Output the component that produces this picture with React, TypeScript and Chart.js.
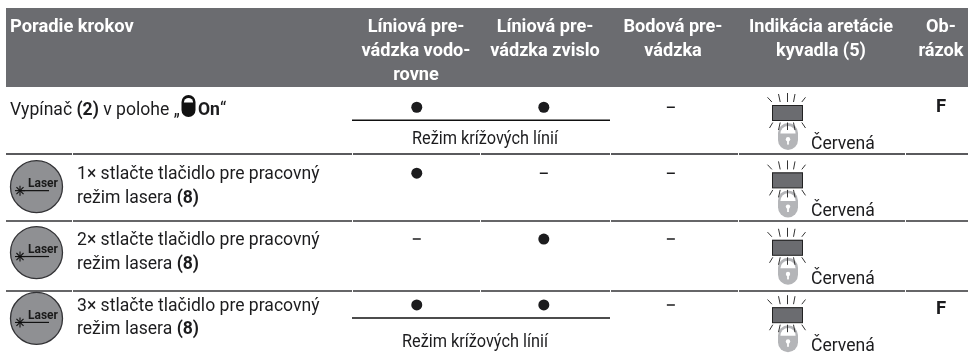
import React, { useEffect, useRef } from "react";
import { Chart, registerables } from "chart.js";

Chart.register(...registerables);

// ---- table content ----
const headerTitles = ["Poradie krokov"];
const columnTitles = [
  ["Líniová pre-", "vádzka vodo-", "rovne"],
  ["Líniová pre-", "vádzka zvislo"],
  ["Bodová pre-", "vádzka"],
  ["Indikácia aretácie", "kyvadla (5)"],
  ["Ob-", "rázok"],
];
const rowIndexes = [1, 2, 3, 4];
// 1 = active mode (dot), 0 = not active (dash)
const horizontalLine = [1, 1, 0, 1];
const verticalLine = [1, 0, 1, 1];
const pointMode = [0, 0, 0, 0];
const crossModeRows = [1, 4];
const crossModeLabel = "Režim krížových línií";
const pendulumLabel = "Červená";
const figureLabels = ["F", "", "", "F"];
const stepPresses = ["1×", "2×", "3×"];
const stepLine1 = "stlačte tlačidlo pre pracovný";
const stepLine2 = "režim lasera ";
const stepKey = "(8)";
const laserKey = "Laser";

const GREY = "#6b6c70";
const INK = "#1c1c1e";
const FONT = "Roboto, 'Liberation Sans', sans-serif";
const BODY = 18.5;
const BODY_SX = 0.95;

function font(size: number, bold = false) {
  return `${bold ? "bold " : ""}${size}px ${FONT}`;
}

function text(ctx: any, s: string, x: number, y: number, f: string, color = INK, align = "left", sx = 1) {
  ctx.save();
  ctx.font = f;
  ctx.fillStyle = color;
  ctx.textBaseline = "alphabetic";
  ctx.textAlign = align;
  ctx.translate(x, y);
  ctx.scale(sx, 1);
  ctx.fillText(s, 0, 0);
  ctx.restore();
}

function runs(ctx: any, parts: [string, boolean][], x: number, y: number, size: number, sx = 1) {
  let cx = x;
  for (const [s, b] of parts) {
    const f = font(size, b);
    ctx.font = f;
    text(ctx, s, cx, y, f, INK, "left", sx);
    ctx.font = f;
    cx += ctx.measureText(s).width * sx;
  }
  return cx;
}

function line(ctx: any, x1: number, y1: number, x2: number, y2: number, color: string, w: number) {
  ctx.strokeStyle = color;
  ctx.lineWidth = w;
  ctx.beginPath();
  ctx.moveTo(x1, y1);
  ctx.lineTo(x2, y2);
  ctx.stroke();
}

// capsule-shaped padlock: rounded body with an arch cut out of its top half
function lock(ctx: any, cx: number, top: number, w: number, h: number, color: string, hole: string | null) {
  const r = w / 2;
  ctx.fillStyle = color;
  ctx.beginPath();
  ctx.roundRect(cx - r, top, w, h, r);
  ctx.fill();
  ctx.fillStyle = "#ffffff";
  ctx.beginPath();
  ctx.arc(cx, top + r + 0.5, r - 2.4, Math.PI, 0);
  ctx.closePath();
  ctx.fill();
  if (hole) {
    ctx.fillStyle = hole;
    ctx.beginPath();
    ctx.arc(cx, top + h * 0.6, 2.2, 0, Math.PI * 2);
    ctx.fill();
    ctx.fillRect(cx - 0.9, top + h * 0.6, 1.8, h * 0.2);
  }
}

const raysTop: [number, number, number, number][] = [
  [-20, -7.7, -15.6, -3], [-9, -11, -7.3, -3], [0, -12, 0, -3], [7.5, -11, 6, -3], [18, -7.7, 14.3, -3],
];
const raysBottom: [number, number, number, number][] = [
  [-18, 23, -14.7, 17.5], [-9, 25, -7.3, 17.5], [0, 25, 0, 17.5], [7.5, 25, 6, 17.5], [18, 23, 14.3, 17.5],
];

function indicator(ctx: any, y: number) {
  const x0 = 772, x1 = 803, cx = 787.5;
  lock(ctx, cx + 0.5, y + 18, 20, 27, "#b4b5b8", "#ffffff");
  for (const [a, b, c, d] of raysTop) line(ctx, cx + a, y + b, cx + c, y + d, "#333", 1);
  for (const [a, b, c, d] of raysBottom) line(ctx, cx + a, y + b, cx + c, y + d, "#333", 1);
  ctx.fillStyle = GREY;
  ctx.fillRect(x0, y, x1 - x0, 15.5);
  ctx.strokeStyle = "#222";
  ctx.lineWidth = 1;
  ctx.strokeRect(x0 + 0.5, y + 0.5, x1 - x0 - 1, 15);
}

function laserButton(ctx: any, cx: number, cy: number) {
  ctx.fillStyle = "#8f9093";
  ctx.strokeStyle = "#333336";
  ctx.lineWidth = 1.3;
  ctx.beginPath();
  ctx.arc(cx, cy, 26, 0, Math.PI * 2);
  ctx.fill();
  ctx.stroke();
  text(ctx, laserKey, cx - 8.5, cy + 0.5, font(12, true), "#1a1a1a");
  line(ctx, cx - 16, cy + 4, cx + 12.5, cy + 4, "#111", 1.2);
  for (let i = 0; i < 4; i++) {
    const a = (i * Math.PI) / 4;
    line(ctx, cx - 16.5 + 5 * Math.cos(a), cy + 4 + 5 * Math.sin(a), cx - 16.5 - 5 * Math.cos(a), cy + 4 - 5 * Math.sin(a), "#111", 1.1);
  }
}

const tablePlugin = {
  id: "table",
  beforeDatasetsDraw(chart: any) {
    const { ctx, scales } = chart;
    const py = (v: number) => scales.y.getPixelForValue(v);
    ctx.save();
    // header band
    ctx.fillStyle = GREY;
    ctx.fillRect(6, 8, 962, 79);
    text(ctx, headerTitles[0], 10, 32, font(18.5, true), "#fff", "left", 0.99);
    const centers = [416, 545, 673, 821, 941];
    columnTitles.forEach((lines, c) => {
      lines.forEach((l, i) => text(ctx, l, centers[c], 32 + i * 24, font(18.5, true), "#fff", "center", 0.98));
    });
    // row separators
    const seps: [number, string, number][] = [[154, "#5a5a5d", 2], [221, "#333336", 1.5], [291, "#333336", 1.5]];
    const bounds = [6, 72, 352, 480, 610, 738, 905, 968];
    seps.forEach(([y, color, w]) => {
      for (let i = 0; i < bounds.length - 1; i++) {
        line(ctx, bounds[i] + (i ? 1 : 0), y, bounds[i + 1], y, color, w);
      }
    });
    // cross mode brackets
    crossModeRows.forEach((r) => {
      const y = py(r) + 13;
      line(ctx, 352, y, 610, y, "#111", 1.4);
      text(ctx, crossModeLabel, r === 1 ? 485 : 475, r === 1 ? 143.5 : 347, font(18), INK, "center", 0.905);
    });
    // first row label
    let cx = runs(ctx, [["Vypínač ", false], ["(2)", true], [" v polohe „", false]], 10, 115, BODY, BODY_SX);
    lock(ctx, 188.5, 95, 14, 22, "#111", null);
    cx = runs(ctx, [["On", true]], 198, 115, BODY, BODY_SX);
    runs(ctx, [["“", false]], cx, 115, BODY, BODY_SX);
    // step rows
    stepPresses.forEach((p, i) => {
      const r = rowIndexes[i + 1];
      const base = py(r);
      laserButton(ctx, 36.5, base + 13.5);
      const c2 = runs(ctx, [[p + " ", false]], 77, base + 6, BODY, BODY_SX);
      runs(ctx, [[stepLine1, false]], c2, base + 6, BODY, BODY_SX);
      runs(ctx, [[stepLine2, false], [stepKey, true]], 77, base + 29.5, BODY, BODY_SX);
    });
    // pendulum indicator + figure letter
    rowIndexes.forEach((r, i) => {
      const top = 105 + i * 67.4;
      indicator(ctx, top);
      text(ctx, pendulumLabel, 811, top + 44, font(BODY), INK, "left", BODY_SX);
      if (figureLabels[i]) text(ctx, figureLabels[i], 941, top + 7, font(BODY, true), INK, "center");
    });
    ctx.restore();
  },
};

const markDataset = (label: string, column: number, values: number[]) => ({
  label,
  data: values.map((v, i) => ({ x: column, y: rowIndexes[i], v })),
  backgroundColor: INK,
  borderColor: INK,
  borderWidth: (c: any) => (c.raw?.v ? 0 : 1.5),
  pointStyle: (c: any) => (c.raw?.v ? "circle" : "line"),
  pointRadius: (c: any) => (c.raw?.v ? 5.5 : 4),
  showLine: false,
});

export default function App() {
  const ref = useRef<HTMLCanvasElement>(null);
  useEffect(() => {
    const chart = new Chart(ref.current!, {
      type: "scatter",
      data: {
        datasets: [
          markDataset("Líniová prevádzka vodorovne", 1, horizontalLine),
          markDataset("Líniová prevádzka zvislo", 2, verticalLine),
          markDataset("Bodová prevádzka", 3, pointMode),
        ],
      },
      options: {
        animation: false,
        responsive: false,
        layout: { padding: 0 },
        plugins: { legend: { display: false }, tooltip: { enabled: false } },
        scales: {
          x: { type: "linear", display: false, min: 1 - 416 / 128.5, max: 1 + 552 / 128.5 },
          y: { type: "linear", display: false, reverse: true, min: 1 - 105 / 68, max: 1 + 250 / 68 },
        },
      } as any,
      plugins: [tablePlugin],
    } as any);
    return () => chart.destroy();
  }, []);
  return (
    <div style={{ position: "absolute", left: 0, top: 0, width: 968, height: 355, background: "#fff" }}>
      <canvas ref={ref} width={968} height={355} style={{ display: "block" }} />
    </div>
  );
}
